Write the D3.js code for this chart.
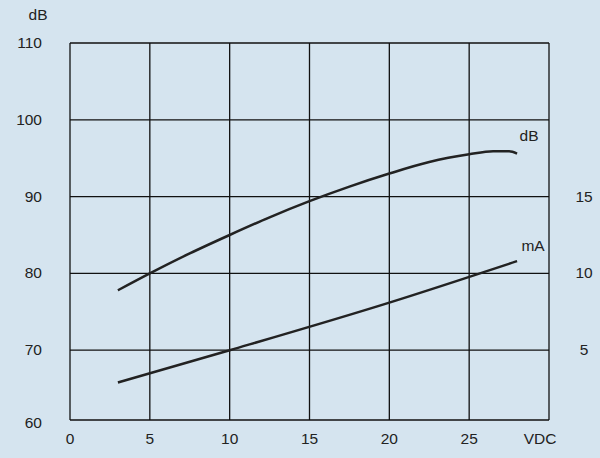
<!DOCTYPE html>
<html><head><meta charset="utf-8">
<script src="https://cdn.jsdelivr.net/npm/d3@7"></script>
<style>body{margin:0;background:#d5e4ef}</style>
</head><body>
<svg width="600" height="458"></svg>
<script>
const xTicks = [0, 5, 10, 15, 20, 25];
const dbTicks = [60, 70, 80, 90, 100, 110];
const maTicks = [5, 10, 15];
const dbCurve = [[3, 77.8], [5, 80], [7.5, 82.6], [10, 85], [12.5, 87.3], [15, 89.4], [17.5, 91.3], [20, 93], [22.5, 94.5], [25, 95.5], [26.5, 95.9], [27.5, 95.9], [28, 95.6]];
const maLine = [[3, 2.9], [10, 5], [20, 8.1], [28, 10.8]];

const svg = d3.select("svg");
const x = d3.scaleLinear().domain([0, 30]).range([70, 549]);
const y = d3.scaleLinear().domain([60, 110]).range([427, 43]);
const y2 = d3.scaleLinear().domain([0, 25]).range([427, 43]);
const bottom = 420;
const font = "Liberation Sans, Arial, sans-serif";

const grid = svg.append("g").attr("stroke", "#111").attr("stroke-width", 1.3);
d3.range(0, 31, 5).forEach(v => grid.append("line")
  .attr("x1", x(v)).attr("x2", x(v)).attr("y1", bottom).attr("y2", y(110)));
dbTicks.slice(1).forEach(v => grid.append("line")
  .attr("x1", x(0)).attr("x2", x(30)).attr("y1", y(v)).attr("y2", y(v)));
grid.append("line").attr("x1", x(0)).attr("x2", x(30)).attr("y1", bottom).attr("y2", bottom);

const txt = (t, px, py, anchor) => svg.append("text").text(t)
  .attr("x", px).attr("y", py).attr("text-anchor", anchor || "middle")
  .attr("font-family", font).attr("font-size", 15.5).attr("fill", "#222");

xTicks.forEach(v => txt(v, x(v), 444));
txt("VDC", 540, 444);
dbTicks.forEach(v => txt(v, 42, (v === 60 ? 423 : y(v)) + 5, "end"));
maTicks.forEach(v => txt(v, 584, y2(v) + 5));
txt("dB", 38, 20);

const line = d3.line().x(d => x(d[0])).curve(d3.curveMonotoneX);
svg.append("path").attr("d", line.y(d => y(d[1]))(dbCurve))
  .attr("fill", "none").attr("stroke", "#222").attr("stroke-width", 2.5);
svg.append("path").attr("d", line.y(d => y2(d[1]))(maLine))
  .attr("fill", "none").attr("stroke", "#222").attr("stroke-width", 2.5);
txt("dB", 529, 141);
txt("mA", 533, 251);
</script>
</body></html>
